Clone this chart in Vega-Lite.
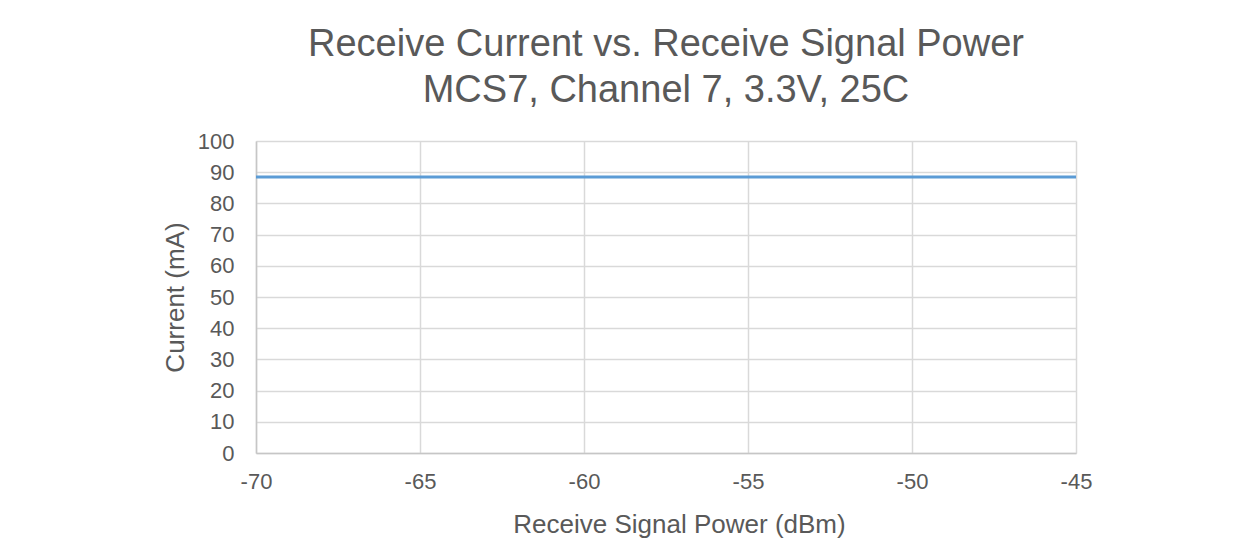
{
  "$schema": "https://vega.github.io/schema/vega-lite/v6.json",
  "autosize": {"type": "none"},
  "width": 820,
  "height": 312,
  "padding": {"left": 256, "top": 141, "right": 173, "bottom": 103},
  "background": "white",
  "title": {
    "text": ["Receive Current vs. Receive Signal Power", "MCS7, Channel 7, 3.3V, 25C"],
    "font": "Liberation Sans",
    "fontSize": 38,
    "fontWeight": "normal",
    "color": "#595959",
    "lineHeight": 46,
    "anchor": "middle",
    "offset": 20
  },
  "data": {
    "values": [
      {"power": -70, "current": 88.5},
      {"power": -65, "current": 88.5},
      {"power": -60, "current": 88.5},
      {"power": -55, "current": 88.5},
      {"power": -50, "current": 88.5},
      {"power": -45, "current": 88.5}
    ]
  },
  "mark": {"type": "line", "color": "#5b9bd5", "strokeWidth": 3},
  "encoding": {
    "x": {
      "field": "power",
      "type": "quantitative",
      "scale": {"domain": [-70, -45], "nice": false, "zero": false},
      "axis": {
        "title": "Receive Signal Power (dBm)",
        "values": [-70, -65, -60, -55, -50, -45],
        "labelExpr": "'' + datum.value",
        "labelFlush": false,
        "labelPadding": 18,
        "titlePadding": 19,
        "titleX": 423
      }
    },
    "y": {
      "field": "current",
      "type": "quantitative",
      "scale": {"domain": [0, 100], "nice": false},
      "axis": {
        "title": "Current (mA)",
        "values": [0, 10, 20, 30, 40, 50, 60, 70, 80, 90, 100],
        "labelPadding": 22,
        "titlePadding": 9
      }
    }
  },
  "config": {
    "view": {"stroke": null},
    "axis": {
      "labelFont": "Liberation Sans",
      "titleFont": "Liberation Sans",
      "labelFontSize": 22,
      "titleFontSize": 26,
      "titleFontWeight": "normal",
      "labelColor": "#595959",
      "titleColor": "#595959",
      "gridColor": "#d9d9d9",
      "gridWidth": 1.5,
      "domainColor": "#c6c6c6",
      "domainWidth": 1.5,
      "ticks": false
    }
  }
}
